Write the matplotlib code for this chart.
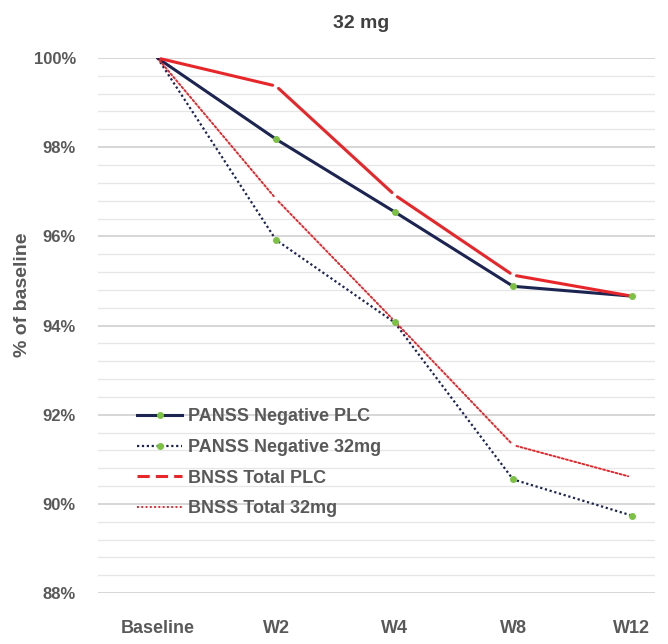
import matplotlib
matplotlib.use('Agg')
import matplotlib.pyplot as plt
from matplotlib.lines import Line2D
from matplotlib.ticker import MultipleLocator, FuncFormatter

plt.rcParams['font.family'] = ['Liberation Sans', 'DejaVu Sans']

# data (% of baseline)
visits = ['Baseline', 'W2', 'W4', 'W8', 'W12']
panss_neg_plc = [100.0, 98.18, 96.55, 94.88, 94.66]
panss_neg_32 = [100.0, 95.92, 94.07, 90.55, 89.74]
bnss_total_plc = [100.0, 99.37, 96.93, 95.13, 94.66]
bnss_total_32 = [100.0, 96.84, 94.10, 91.32, 90.60]

NAVY = '#1c2452'
RED = '#e8262a'
GREEN = '#7cc242'
GREY = '#595959'

fig = plt.figure(figsize=(6.68, 6.44), dpi=100)
ax = fig.add_axes([0.147, 0.079, 0.834, 0.831])

x = list(range(len(visits)))

# navy series: plain lines with small green markers
ax.plot(x, panss_neg_plc, color=NAVY, lw=2.2, solid_capstyle='round', zorder=3)
ax.plot(x[1:], panss_neg_plc[1:], ls='none', marker='o', ms=4, color=GREEN, zorder=4)
ax.plot(x, panss_neg_32, color=NAVY, lw=1.6, ls=(0, (1, 1.2)), zorder=3)
ax.plot(x[1:], panss_neg_32[1:], ls='none', marker='o', ms=4, color=GREEN, zorder=4)


# red series: Excel-like segments with small gaps at each vertex
def segments(ys, lw, ls):
    for i in range(len(ys) - 1):
        ax.annotate('', xy=(x[i + 1], ys[i + 1]), xytext=(x[i], ys[i]),
                    arrowprops=dict(arrowstyle='-', color=RED, lw=lw, ls=ls,
                                    shrinkA=2.5, shrinkB=2.5), zorder=3)


segments(bnss_total_plc, 2.2, '-')
segments(bnss_total_32, 1.4, (0, (1, 1.2)))

ax.set_xlim(-0.5, 4.2)
ax.set_ylim(88, 100)
ax.set_xticks(x)
ax.set_xticklabels(visits)
ax.yaxis.set_major_locator(MultipleLocator(2))
ax.yaxis.set_minor_locator(MultipleLocator(0.4))
ax.yaxis.set_major_formatter(FuncFormatter(lambda v, p: f'{v:.0f}%'))
ax.grid(True, which='major', axis='y', color='#d0d0d0', lw=1.2)
ax.grid(True, which='minor', axis='y', color='#e6e6e6', lw=0.9)
ax.set_axisbelow(True)
for s in ax.spines.values():
    s.set_visible(False)
ax.tick_params(axis='both', which='both', length=0, colors=GREY, labelsize=12)
ax.tick_params(axis='x', pad=19, labelsize=13)
ax.tick_params(axis='y', pad=16)
for lab in ax.get_xticklabels() + ax.get_yticklabels():
    lab.set_fontweight('bold')

ax.set_ylabel('% of baseline', fontsize=14, fontweight='bold', color=GREY)
ax.yaxis.set_label_coords(-0.12, 0.557)
fig.text(0.54, 0.963, '32 mg', ha='center', va='center', fontsize=14,
         fontweight='bold', color='#404040')

handles = [
    Line2D([], [], color=NAVY, lw=2.2, marker='o', ms=4, mfc=GREEN, mec=GREEN),
    Line2D([], [], color=NAVY, lw=1.6, ls=(0, (1, 1.2)), marker='o', ms=4, mfc=GREEN, mec=GREEN),
    Line2D([], [], color=RED, lw=2.2, ls=(0, (4, 2))),
    Line2D([], [], color=RED, lw=1.4, ls=(0, (1, 1.2))),
]
labels = ['PANSS Negative PLC', 'PANSS Negative 32mg', 'BNSS Total PLC', 'BNSS Total 32mg']
leg = ax.legend(handles, labels, loc='upper left', bbox_to_anchor=(0.07, 0.345),
                frameon=False, fontsize=13, handlelength=2.5, handletextpad=0.3,
                labelspacing=0.75, borderaxespad=0, borderpad=0)
for t in leg.get_texts():
    t.set_color(GREY)
    t.set_fontweight('bold')

fig.savefig('out.png', dpi=100, facecolor='white')
